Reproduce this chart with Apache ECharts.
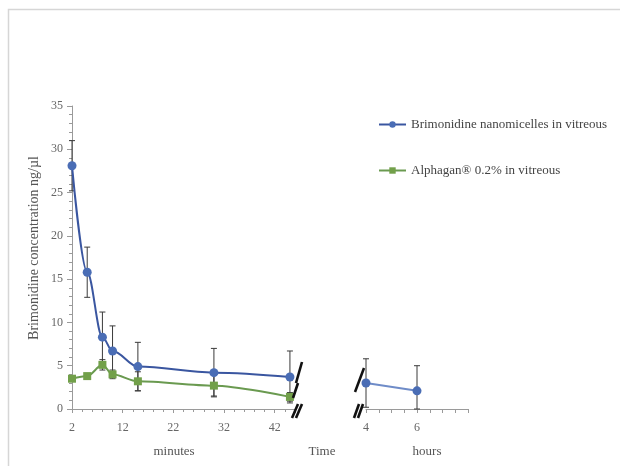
<!DOCTYPE html>
<html>
<head>
<meta charset="utf-8">
<script src="https://cdn.jsdelivr.net/npm/echarts@6/dist/echarts.min.js"></script>
<style>html,body{margin:0;padding:0;background:#fff}#c{width:620px;height:466px}</style>
</head>
<body>
<div id="c"></div>
<script>
const minutes = [2, 5, 8, 10, 15, 30, 45];
const nanoMin = [28.1, 15.8, 8.3, 6.7, 4.9, 4.2, 3.7];
const nanoMinErr = [2.9, 2.9, 2.9, 2.9, 2.8, 2.8, 3.0];
const alphaMin = [3.5, 3.8, 5.1, 4.0, 3.2, 2.7, 1.4];
const alphaMinErr = [0.3, 0.3, 0.6, 0.5, 1.1, 1.2, 0.5];
const hours = [4, 6];
const nanoHr = [3.0, 2.1];
const nanoHrErr = [2.8, 2.9];
const yTicks = [0, 5, 10, 15, 20, 25, 30, 35];
const minuteLabels = [2, 12, 22, 32, 42];
const hourLabels = [4, 6];
const seriesNames = ['Brimonidine nanomicelles in vitreous', 'Alphagan® 0.2% in vitreous'];

const FONT = '"Liberation Serif", "DejaVu Serif", serif';
const BLUE = '#4a6db5', BLUE_LINE = '#3a56a0';
const GREEN = '#72a04a', GREEN_LINE = '#6a9a50';
const AXIS = '#9a9a9a';

function pairs(xs, ys) { return xs.map((x, i) => [x, ys[i]]); }
function errData(xs, ys, es) { return xs.map((x, i) => [x, Math.max(0, ys[i] - es[i]), ys[i] + es[i]]); }

function errSeries(data, xi) {
  return {
    type: 'custom', xAxisIndex: xi, yAxisIndex: xi, z: 1, silent: true,
    data: data,
    encode: { x: 0, y: [1, 2] },
    renderItem: function (params, api) {
      const x = api.value(0);
      const lo = api.coord([x, api.value(1)]);
      const hi = api.coord([x, api.value(2)]);
      const w = 3;
      const st = { stroke: '#3a3a3a', lineWidth: 1 };
      return { type: 'group', children: [
        { type: 'line', shape: { x1: lo[0], y1: lo[1], x2: hi[0], y2: hi[1] }, style: st },
        { type: 'line', shape: { x1: hi[0] - w, y1: hi[1], x2: hi[0] + w, y2: hi[1] }, style: st },
        { type: 'line', shape: { x1: lo[0] - w, y1: lo[1], x2: lo[0] + w, y2: lo[1] }, style: st }
      ]};
    }
  };
}

const axisLabelStyle = { color: '#666', fontFamily: FONT, fontSize: 12 };

const chart = echarts.init(document.getElementById('c'), null, { renderer: 'canvas' });
const option = {
  animation: false,
  backgroundColor: '#fff',
  grid: [
    { left: 72, top: 106, width: 223, bottom: 57 },
    { left: 366, top: 106, width: 102, bottom: 57 }
  ],
  xAxis: [
    { type: 'value', gridIndex: 0, min: 2, max: 46, interval: 10,
      axisLine: { lineStyle: { color: AXIS } },
      axisTick: { length: 4, lineStyle: { color: AXIS } },
      minorTick: { show: true, splitNumber: 5, length: 3, lineStyle: { color: AXIS } },
      splitLine: { show: false },
      axisLabel: Object.assign({ margin: 13, formatter: v => minuteLabels.includes(v) ? String(v) : '' }, axisLabelStyle) },
    { type: 'value', gridIndex: 1, min: 4, max: 8, interval: 0.5,
      axisLine: { lineStyle: { color: AXIS } },
      axisTick: { length: 4, lineStyle: { color: AXIS } },
      splitLine: { show: false },
      axisLabel: Object.assign({ margin: 13, formatter: v => hourLabels.includes(v) ? String(v) : '' }, axisLabelStyle) }
  ],
  yAxis: [
    { type: 'value', gridIndex: 0, min: 0, max: 35, interval: 5,
      axisLine: { show: true, lineStyle: { color: AXIS } },
      axisTick: { show: true, length: 5, lineStyle: { color: AXIS } },
      minorTick: { show: true, splitNumber: 5, length: 3, lineStyle: { color: AXIS } },
      splitLine: { show: false },
      axisLabel: Object.assign({ margin: 9, formatter: v => yTicks.includes(v) ? String(v) : '' }, axisLabelStyle) },
    { type: 'value', gridIndex: 1, min: 0, max: 35, show: false, splitLine: { show: false } }
  ],
  legend: {
    orient: 'vertical', left: 373, top: 113, itemGap: 33,
    itemWidth: 27, itemHeight: 8,
    textStyle: { color: '#444', fontFamily: FONT, fontSize: 13 },
    data: seriesNames
  },
  series: [
    errSeries(errData(minutes, nanoMin, nanoMinErr), 0),
    errSeries(errData(minutes, alphaMin, alphaMinErr), 0),
    errSeries(errData(hours, nanoHr, nanoHrErr), 1),
    { name: seriesNames[0], type: 'line', xAxisIndex: 0, yAxisIndex: 0, z: 3,
      data: pairs(minutes, nanoMin), smooth: 0.35, smoothMonotone: 'x',
      symbol: 'circle', symbolSize: 9,
      itemStyle: { color: BLUE }, lineStyle: { color: BLUE_LINE, width: 2 } },
    { name: seriesNames[1], type: 'line', xAxisIndex: 0, yAxisIndex: 0, z: 2,
      data: pairs(minutes, alphaMin), smooth: 0.3, smoothMonotone: 'x',
      symbol: 'rect', symbolSize: 8,
      itemStyle: { color: GREEN }, lineStyle: { color: GREEN_LINE, width: 2 } },
    { name: seriesNames[0], type: 'line', xAxisIndex: 1, yAxisIndex: 1, z: 3,
      data: pairs(hours, nanoHr),
      symbol: 'circle', symbolSize: 9,
      itemStyle: { color: BLUE }, lineStyle: { color: '#6f8cc8', width: 2 } }
  ]
};
chart.setOption(option);

// decorations: frame, axis titles, axis-break marks
const p0 = chart.convertToPixel({ xAxisIndex: 0, yAxisIndex: 0 }, [46, 0]);
const p1 = chart.convertToPixel({ xAxisIndex: 1, yAxisIndex: 1 }, [4, 0]);
const brk = { stroke: '#111', lineWidth: 2.6 };
function seg(x1, y1, x2, y2) { return { type: 'line', shape: { x1, y1, x2, y2 }, style: brk, z: 10 }; }
const txt = (x, y, s, extra) => Object.assign({ type: 'text', x, y, style: { text: s, fill: '#555', font: '13px ' + FONT, align: 'center', verticalAlign: 'middle' }, z: 10 }, extra || {});

chart.setOption({
  graphic: [
    { type: 'rect', shape: { x: 8.5, y: 9.5, width: 640, height: 480 }, style: { fill: null, stroke: '#d6d6d6', lineWidth: 1.5 }, z: 0 },
    // break at end of minutes axis
    seg(p0[0] + 7, p0[1] - 47, p0[0] + 1, p0[1] - 26),
    seg(p0[0] + 3, p0[1] - 26, p0[0] - 2, p0[1] - 11),
    seg(p0[0] - 3, p0[1] + 9, p0[0] + 3, p0[1] - 5),
    seg(p0[0] + 1, p0[1] + 9, p0[0] + 7, p0[1] - 5),
    // break at start of hours axis
    seg(p1[0] - 2, p1[1] - 41, p1[0] - 11, p1[1] - 17),
    seg(p1[0] - 12, p1[1] + 9, p1[0] - 7, p1[1] - 5),
    seg(p1[0] - 8, p1[1] + 9, p1[0] - 3, p1[1] - 5),
    txt(174, 452, 'minutes'),
    txt(322, 452, 'Time'),
    txt(427, 452, 'hours'),
    txt(34, 248, 'Brimonidine concentration ng/µl', { rotation: Math.PI / 2, style: { text: 'Brimonidine concentration ng/µl', fill: '#555', font: '14px ' + FONT, align: 'center', verticalAlign: 'middle' } })
  ]
});
</script>
</body>
</html>
